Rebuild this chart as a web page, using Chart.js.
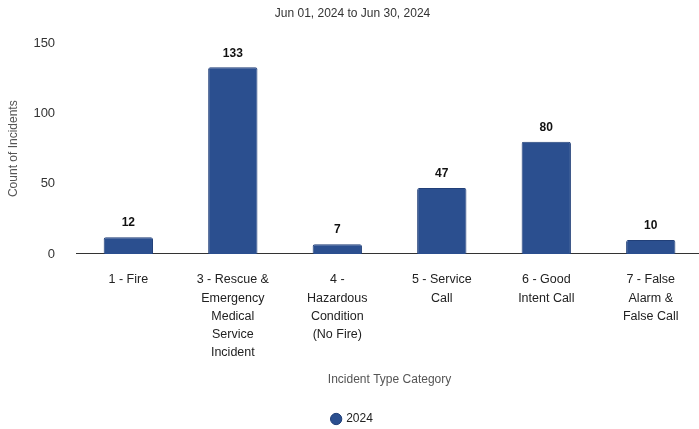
<!DOCTYPE html>
<html>
<head>
<meta charset="utf-8">
<script src="https://cdn.jsdelivr.net/npm/chart.js@4.4.1/dist/chart.umd.min.js"></script>
<style>
  html, body { margin: 0; padding: 0; background: #fff; overflow: hidden; }
  #wrap { width: 703px; height: 429px; }
</style>
</head>
<body>
<div id="wrap"><canvas id="incidentChart"></canvas></div>
<script>
// incident categories and counts for June 2024
const categories = [
  ['1 - Fire'],
  ['3 - Rescue &', 'Emergency', 'Medical', 'Service', 'Incident'],
  ['4 -', 'Hazardous', 'Condition', '(No Fire)'],
  ['5 - Service', 'Call'],
  ['6 - Good', 'Intent Call'],
  ['7 - False', 'Alarm &', 'False Call']
];
const counts2024 = [12, 133, 7, 47, 80, 10];
const yTicks = [0, 50, 100, 150];

const FONT = '"Liberation Sans", Arial, sans-serif';

// draws the count above each bar
const barValueLabels = {
  id: 'barValueLabels',
  afterDatasetsDraw(chart) {
    const ctx = chart.ctx;
    ctx.save();
    ctx.font = 'bold 12px ' + FONT;
    ctx.fillStyle = '#111';
    ctx.textAlign = 'center';
    ctx.textBaseline = 'bottom';
    chart.getDatasetMeta(0).data.forEach((bar, i) => {
      ctx.fillText(chart.data.datasets[0].data[i], bar.x, bar.y - 8);
    });
    ctx.restore();
  }
};

const ctx = document.getElementById('incidentChart').getContext('2d');
new Chart(ctx, {
  type: 'bar',
  data: {
    labels: categories,
    datasets: [{
      label: '2024',
      data: counts2024,
      backgroundColor: '#2b4f8f',
      borderColor: '#213f78',
      borderWidth: 1,
      borderRadius: 2,
      categoryPercentage: 0.8,
      barPercentage: 0.59
    }]
  },
  options: {
    responsive: true,
    maintainAspectRatio: false,
    animation: false,
    layout: { padding: { top: 4, left: 2, right: 0, bottom: -6 } },
    scales: {
      y: {
        min: 0,
        max: 150,
        afterBuildTicks: axis => { axis.ticks = yTicks.map(v => ({ value: v })); },
        grid: { display: false },
        border: { display: false },
        ticks: {
          color: '#333',
          font: { family: FONT, size: 13 },
          padding: 13
        },
        title: {
          display: true,
          text: 'Count of Incidents',
          color: '#555',
          font: { family: FONT, size: 12 },
          padding: { top: 4, bottom: 0 }
        }
      },
      x: {
        grid: { display: false },
        border: { display: true, color: '#333', width: 1 },
        ticks: {
          color: '#222',
          maxRotation: 0,
          autoSkip: false,
          padding: 9,
          font: { family: FONT, size: 12.5, lineHeight: 1.45 }
        },
        title: {
          display: true,
          text: 'Incident Type Category',
          color: '#555',
          font: { family: FONT, size: 12 },
          padding: { top: 2, bottom: 23 }
        }
      }
    },
    plugins: {
      subtitle: {
        display: true,
        text: 'Jun 01, 2024 to Jun 30, 2024',
        color: '#333',
        font: { family: FONT, size: 12 },
        padding: { top: 2, bottom: 23 }
      },
      legend: {
        position: 'bottom',
        labels: {
          usePointStyle: true,
          pointStyle: 'circle',
          boxWidth: 8,
          boxHeight: 8,
          padding: 3,
          color: '#222',
          font: { family: FONT, size: 12 }
        }
      },
      tooltip: { enabled: false }
    }
  },
  plugins: [barValueLabels]
});
</script>
</body>
</html>
